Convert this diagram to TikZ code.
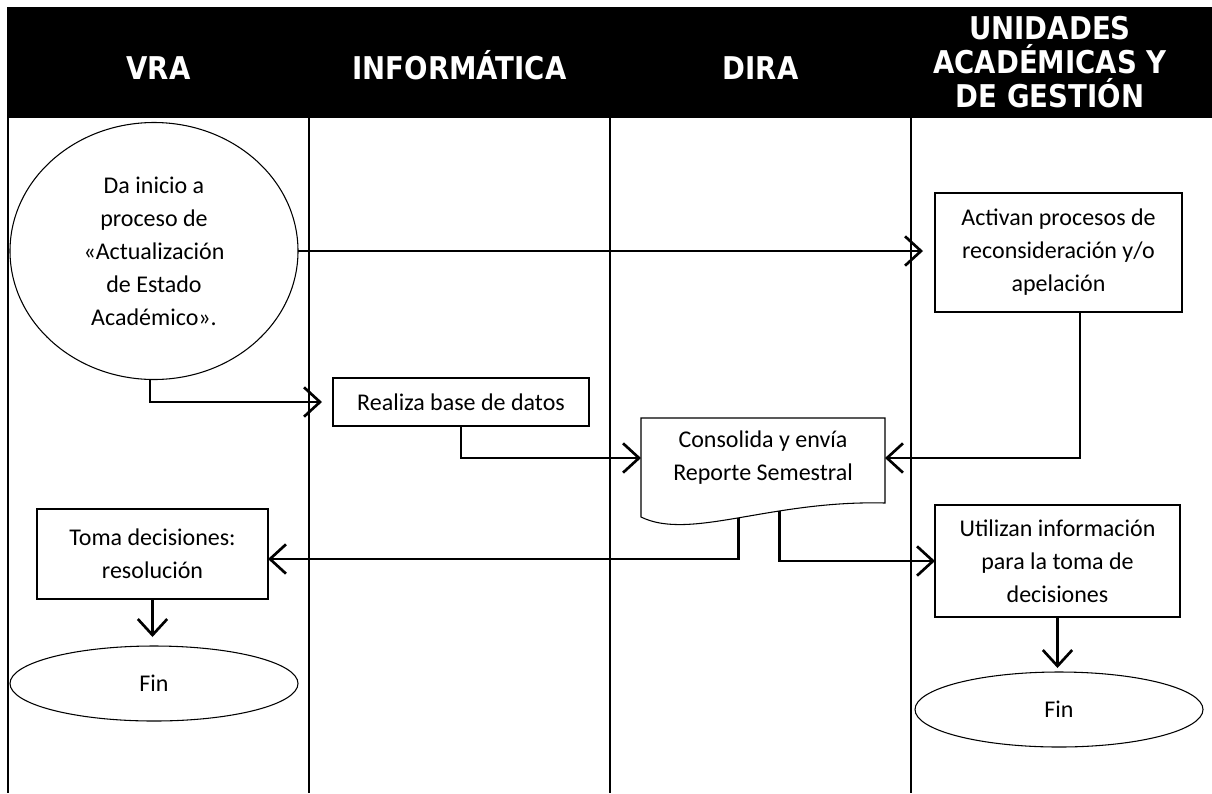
\documentclass[tikz,border=0pt]{standalone}
\usepackage{fontspec}
\setmainfont{Carlito}
\newfontfamily\headfont{DejaVu Sans}[FakeStretch=0.88]
\usetikzlibrary{shapes.geometric,arrows.meta}

\begin{document}
\begin{tikzpicture}[x = 0.75pt, y = -0.75pt,
    lane/.style = {line width = 1.5pt},
    lanehead/.style = {text = white, align = center, inner sep = 0pt,
      font = \headfont\bfseries\fontsize{23.5}{25.5}\selectfont},
    task/.style = {draw, rectangle, line width = 0.8pt, outer sep = 0pt,
      align = center, font = \fontsize{18}{24.75}\selectfont},
    term/.style = {draw, ellipse, line width = 0.8pt, outer sep = 0pt,
      inner sep = 0pt, align = center, font = \fontsize{18}{24.75}\selectfont},
    flow/.style = {line width = 2pt, -{Straight Barb[length = 12pt, width = 22pt]}}]

        \fill[white] (0, 0) rectangle (1212, 793);
        \useasboundingbox (0, 0) rectangle (1212, 793);

        \fill[black] (7, 7) rectangle (1212, 118);
        \foreach \x in {8, 309, 610, 911} {
          \draw[lane] (\x, 117) -- (\x, 793);
        }

        \node[lanehead, anchor = base] (hvra) at (158.5, 79) {VRA};
        \node[lanehead, anchor = base] (hinfo) at (459.5, 79) {INFORMÁTICA};
        \node[lanehead, anchor = base] (hdira) at (760.5, 79) {DIRA};
        \node[lanehead] (hunid) at (1050, 62) {UNIDADES\\ACADÉMICAS Y\\DE GESTIÓN};

        \node[term, minimum width = 216pt, minimum height = 192.75pt] (start) at (154, 251)
          {Da inicio a\\proceso de\\«Actualización\\de Estado\\Académico».};
        \node[task, minimum width = 192pt, minimum height = 36pt] (data) at (461, 402)
          {Realiza base de datos};
        \node[task, minimum width = 185.25pt, minimum height = 89.25pt] (act) at (1058.5, 252.5)
          {Activan procesos de\\reconsideración y/o\\apelación};
        \node[rectangle, outer sep = 0pt, align = center, font = \fontsize{18}{24.75}\selectfont,
          minimum width = 183pt, minimum height = 60pt] (cons) at (763, 458)
          {Consolida y envía\\Reporte Semestral};
        \draw[line width = 0.8pt] (cons.north west) -- (cons.north east) -- (885, 503)
          .. controls (770, 500) and (690, 541) .. (641, 517)
          coordinate[pos = 0.5] (consL) coordinate[pos = 0.34] (consR) -- cycle;
        \node[task, minimum width = 173.25pt, minimum height = 67.5pt] (toma) at (152.5, 554)
          {Toma decisiones:\\resolución};
        \node[task, minimum width = 183.75pt, minimum height = 84pt] (use) at (1057.5, 561)
          {Utilizan información\\para la toma de\\decisiones};
        \node[term, minimum width = 216pt, minimum height = 56.25pt] (fin1) at (154, 683.5) {Fin};
        \node[term, minimum width = 216pt, minimum height = 56.25pt] (fin2) at (1059, 709.5) {Fin};

        \draw[flow, shorten >= 9pt] (start.east) -- (start.east -| act.west);
        \draw[flow, shorten >= 8.25pt] ([xshift = -3pt]start.south) |- (data.west);
        \draw[flow] (data.south) |- (cons.west);
        \draw[flow] ([xshift = 16pt]act.south) |- (cons.east);
        \draw[flow] (consL) |- ([yshift = -3.75pt]toma.east);
        \draw[flow] (consR) |- (use.west);
        \draw[flow, shorten >= 6.75pt] (toma.south) -- (toma.south |- fin1.north);
        \draw[flow, shorten >= 3pt] (use.south) -- (use.south |- fin2.north);
      \end{tikzpicture}
\end{document}
